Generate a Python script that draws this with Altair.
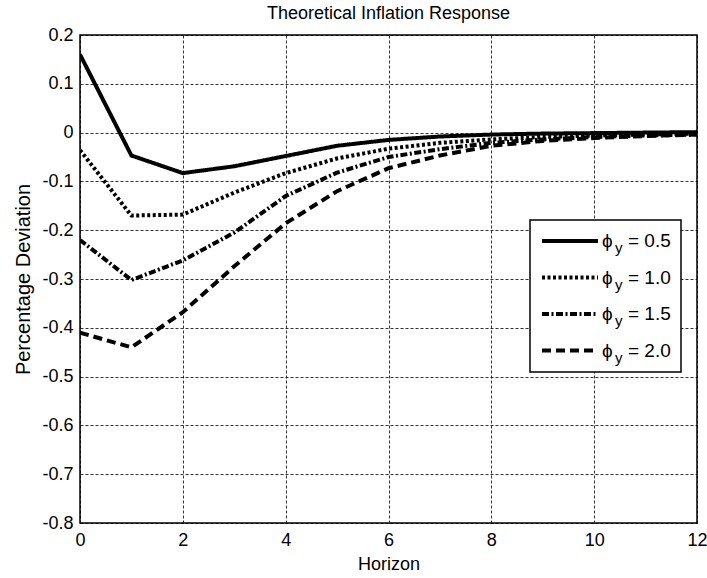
import altair as alt
import pandas as pd

horizon = list(range(13))
phi_labels = ["0.5", "1.0", "1.5", "2.0"]
resp_05 = [0.160, -0.047, -0.083, -0.069, -0.048, -0.027, -0.015, -0.008, -0.004, -0.002, -0.001, 0.000, 0.001]
resp_10 = [-0.036, -0.170, -0.168, -0.123, -0.083, -0.053, -0.033, -0.021, -0.014, -0.009, -0.006, -0.004, -0.002]
resp_15 = [-0.220, -0.302, -0.262, -0.205, -0.130, -0.082, -0.050, -0.034, -0.021, -0.014, -0.009, -0.006, -0.004]
resp_20 = [-0.410, -0.440, -0.368, -0.274, -0.186, -0.120, -0.073, -0.047, -0.027, -0.017, -0.011, -0.007, -0.004]
y_ticks = [-0.8, -0.7, -0.6, -0.5, -0.4, -0.3, -0.2, -0.1, 0.0, 0.1, 0.2]
x_ticks = [0, 2, 4, 6, 8, 10, 12]

series = [resp_05, resp_10, resp_15, resp_20]
rows = []
for lab, vals in zip(phi_labels, series):
    for h, v in zip(horizon, vals):
        rows.append({"horizon": h, "value": v, "phi": lab})
df = pd.DataFrame(rows)

dashes = [[1, 0], [3, 2.5], [7, 2.5, 2, 2.5], [9, 5]]
FONT = "Liberation Sans"

lines = alt.Chart(df).mark_line(strokeWidth=4, color="black", clip=True).encode(
    x=alt.X("horizon:Q", scale=alt.Scale(domain=[0, 12], nice=False),
            axis=alt.Axis(values=x_ticks, title="Horizon", format="d", labelFlush=False)),
    y=alt.Y("value:Q", scale=alt.Scale(domain=[-0.8, 0.2], nice=False, zero=False),
            axis=alt.Axis(values=y_ticks, title="Percentage Deviation", format=".1~f",
                          titleFontSize=20, labelFlush=False,
                          labelExpr="replace(datum.label, '\u2212', '-')")),
    strokeDash=alt.StrokeDash("phi:N", scale=alt.Scale(domain=phi_labels, range=dashes), legend=None),
    detail="phi:N",
)

# legend box (drawn in pixel space of the plot area)
box_x, box_x2, box_y, box_y2 = 450, 601, 185, 337
leg_layers = []
leg_layers.append(
    alt.Chart(pd.DataFrame({"phi": ["box"]})).mark_rect(fill="white", stroke="black", strokeWidth=1.5).encode(
        x=alt.value(box_x), x2=alt.value(box_x2), y=alt.value(box_y), y2=alt.value(box_y2)
    )
)
for i, lab in enumerate(phi_labels):
    yy = 206 + 36.5 * i
    one = pd.DataFrame({"phi": [lab], "txt": ["= " + lab]})
    leg_layers.append(
        alt.Chart(one).mark_rule(strokeWidth=4, color="black", strokeDash=dashes[i]).encode(
            x=alt.value(462), x2=alt.value(518), y=alt.value(yy)
        )
    )
    leg_layers.append(
        alt.Chart(one).mark_text(text="\u03d5", font=FONT, fontSize=19, align="left", baseline="middle", color="black").encode(
            x=alt.value(522), y=alt.value(yy)
        )
    )
    leg_layers.append(
        alt.Chart(one).mark_text(text="y", font=FONT, fontSize=15, align="left", baseline="middle", color="black").encode(
            x=alt.value(535), y=alt.value(yy + 7)
        )
    )
    leg_layers.append(
        alt.Chart(one).mark_text(font=FONT, fontSize=19, align="left", baseline="middle", color="black").encode(
            x=alt.value(548), y=alt.value(yy), text="txt:N"
        )
    )

chart = alt.layer(lines, *leg_layers).properties(
    width=617,
    height=488,
    title=alt.TitleParams("Theoretical Inflation Response", font=FONT, fontSize=18, fontWeight="normal",
                          color="black", anchor="middle", offset=3),
    autosize=alt.AutoSizeParams(type="none"),
    padding={"left": 80, "top": 35, "right": 10, "bottom": 55},
).configure_view(
    stroke="black", strokeWidth=1.5
).configure_axis(
    labelFont=FONT, titleFont=FONT, labelFontSize=18, titleFontSize=18, titleFontWeight="normal",
    labelColor="black", titleColor="black",
    grid=True, gridColor="black", gridDash=[3, 2], gridWidth=0.8, gridOpacity=1,
    domain=False, ticks=False,
).configure_axisX(
    labelPadding=8, titlePadding=6
).configure_axisY(
    labelPadding=7, titlePadding=8
)

chart.save("out.html", embed_options={"renderer": "svg", "actions": False})
